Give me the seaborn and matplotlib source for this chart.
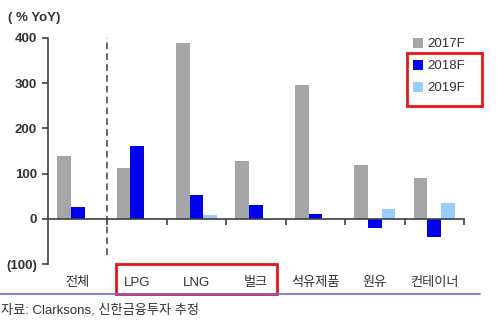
import numpy as np
import pandas as pd
import matplotlib
matplotlib.use("Agg")
import matplotlib.pyplot as plt
import matplotlib.patches as mpatches
import seaborn as sns

categories = ["전체", "LPG", "LNG", "벌크", "석유제품", "원유", "컨테이너"]
series_names = ["2017F", "2018F", "2019F"]
v2017 = [138, 113, 389, 127, 296, 118, 91]
v2018 = [27, 162, 53, 31, 11, -20, -40]
v2019 = [0, 0, 8, -2, 0, 22, 34]
yticks = [-100, 0, 100, 200, 300, 400]
ytick_labels = ["(100)", "0", "100", "200", "300", "400"]
colors = ["#A6A6A6", "#0000F0", "#99CCFF"]

rows = []
for name, vals in zip(series_names, [v2017, v2018, v2019]):
    for c, v in zip(categories, vals):
        rows.append({"cat": c, "year": name, "val": v})
df = pd.DataFrame(rows)

sns.set_style("white")
plt.rcParams["font.family"] = ["Liberation Sans", "Noto Sans CJK KR", "DejaVu Sans"]

fig = plt.figure(figsize=(4.99, 3.22), dpi=100)
ax = fig.add_axes([48/499, 1-264/322, (464-48)/499, (264-38)/322])

sns.barplot(data=df, x="cat", y="val", hue="year", order=categories,
            hue_order=series_names, palette=colors, width=0.69, gap=0,
            saturation=1, ax=ax, legend=True, linewidth=0)

ax.set_ylim(-100, 400)
ax.set_xlim(-0.5, len(categories) - 0.5)
ax.set_xlabel("")
ax.set_ylabel("")

# spines
for s in ["top", "right"]:
    ax.spines[s].set_visible(False)
ax.spines["left"].set_color("#404040")
ax.spines["left"].set_linewidth(1.2)
ax.spines["bottom"].set_position(("data", 0))
ax.spines["bottom"].set_color("#404040")
ax.spines["bottom"].set_linewidth(1.2)

ax.set_yticks(yticks)
ax.set_yticklabels(ytick_labels, fontsize=9.5, fontweight="bold", color="#333333")
ax.tick_params(axis="y", direction="out", length=4, width=1.2, color="#404040", pad=4, left=True)

bounds = np.arange(0.5, len(categories), 1.0)
ax.set_xticks(bounds)
ax.set_xticklabels([])
ax.tick_params(axis="x", direction="out", length=4, width=1.2, color="#404040", bottom=True)

secax = ax.secondary_xaxis("bottom")
secax.set_xticks(np.arange(len(categories)))
secax.set_xticklabels(categories, fontsize=9.5, color="#333333")
secax.tick_params(length=0, pad=15.5)
for lbl in secax.get_xticklabels():
    lbl.set_verticalalignment("baseline")
secax.spines["bottom"].set_visible(False)

ax.vlines(0.5, -80, 400, linestyles=(0, (4, 2.5)), colors="#505050", linewidth=1.2)

# legend
handles, labels = ax.get_legend_handles_labels()
leg = ax.legend(handles, labels, loc="upper left", bbox_to_anchor=(413/499, 1-38/322),
                bbox_transform=fig.transFigure, frameon=False, fontsize=9.5,
                handlelength=0.75, handleheight=0.75, handletextpad=0.3,
                labelspacing=0.72, borderpad=0, borderaxespad=0)
for t in leg.get_texts():
    t.set_color("#333333")

# red boxes
fig.patches.append(mpatches.Rectangle((116/499, 1-294/322), 161/499, 30/322,
                   transform=fig.transFigure, fill=False, edgecolor="#E8161B", linewidth=2))
fig.patches.append(mpatches.Rectangle((407/499, 1-106/322), 75/499, 53/322,
                   transform=fig.transFigure, fill=False, edgecolor="#E8161B", linewidth=2))

# blue rule
fig.add_artist(plt.Line2D([0, 480/499], [1-294/322, 1-294/322], transform=fig.transFigure,
                          color="#6A6AE8", linewidth=1.2))

fig.text(8/499, 1-18/322, "( % YoY)", fontsize=9.5, fontweight="bold", color="#333333", va="center")
fig.text(1/499, 1-310/322, "자료: Clarksons, 신한금융투자 추정", fontsize=9.5, color="#333333", va="center")

fig.savefig("out.png", dpi=100)
